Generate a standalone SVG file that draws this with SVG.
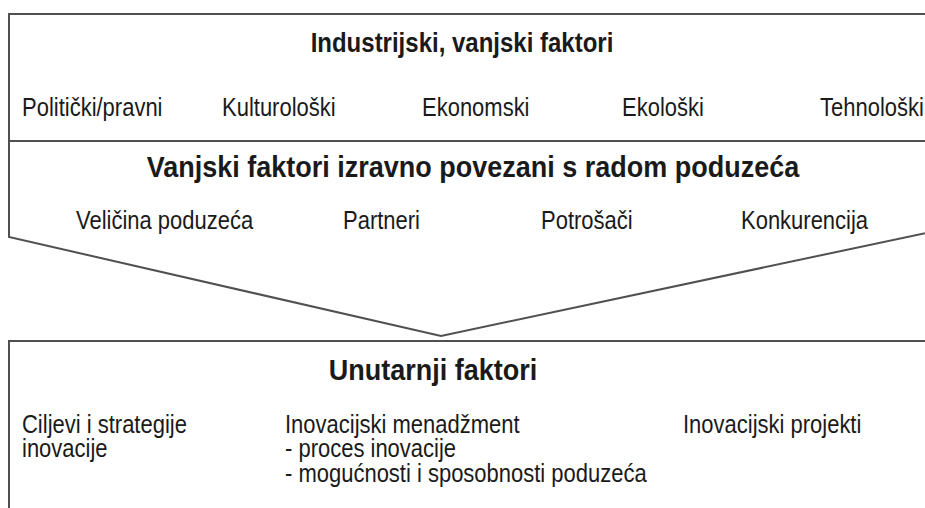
<svg xmlns="http://www.w3.org/2000/svg" width="925" height="508" viewBox="0 0 925 508">
<style>
.frame{fill:#ffffff;stroke:#505050;stroke-width:2;stroke-linejoin:miter}
.sep{stroke:#505050;stroke-width:2;fill:none}
.t{font-family:"Liberation Sans",Arial,sans-serif;fill:#1a1a1a}
.h{font-size:24px;font-weight:bold;text-anchor:middle}
.h2{font-size:27px;font-weight:bold;text-anchor:middle}
.l{font-size:22px}
</style>
<rect width="925" height="508" fill="#ffffff"/>
<g id="external-factors">
<path class="frame" d="M940,14 L9,14 L9,237 L441,336 L940,230"/>
<line class="sep" x1="9" y1="141" x2="940" y2="141"/>
<g id="industry-factors">
<text class="t h" transform="matrix(1,0,0,1.15,462,52)">Industrijski, vanjski faktori</text>
<text class="t l" transform="matrix(1,0,0,1.15,22,116)">Politički/pravni</text>
<text class="t l" transform="matrix(1,0,0,1.15,222,116)">Kulturološki</text>
<text class="t l" transform="matrix(1,0,0,1.15,422,116)">Ekonomski</text>
<text class="t l" transform="matrix(1,0,0,1.15,622,116)">Ekološki</text>
<text class="t l" transform="matrix(1,0,0,1.15,820,116)">Tehnološki</text>
</g>
<g id="direct-factors">
<text class="t h2" transform="matrix(1,0,0,1.1,473,177)">Vanjski faktori izravno povezani s radom poduzeća</text>
<text class="t l" transform="matrix(1,0,0,1.15,76,229)">Veličina poduzeća</text>
<text class="t l" transform="matrix(1,0,0,1.15,343,229)">Partneri</text>
<text class="t l" transform="matrix(1,0,0,1.15,541,229)">Potrošači</text>
<text class="t l" transform="matrix(1,0,0,1.15,741,229)">Konkurencija</text>
</g>
</g>
<g id="internal-factors">
<path class="frame" d="M940,341 L9,341 L9,520"/>
<text class="t h2" transform="matrix(1,0,0,1.1,433,380)">Unutarnji faktori</text>
<text class="t l" transform="matrix(1,0,0,1.15,22,433)">Ciljevi i strategije</text>
<text class="t l" transform="matrix(1,0,0,1.15,22,457)">inovacije</text>
<text class="t l" transform="matrix(1,0,0,1.15,285,433)">Inovacijski menadžment</text>
<text class="t l" transform="matrix(1,0,0,1.15,285,457)">- proces inovacije</text>
<text class="t l" transform="matrix(1,0,0,1.15,285,482)">- mogućnosti i sposobnosti poduzeća</text>
<text class="t l" transform="matrix(1,0,0,1.15,683,433)">Inovacijski projekti</text>
</g>
<g id="connectors"></g>
</svg>
